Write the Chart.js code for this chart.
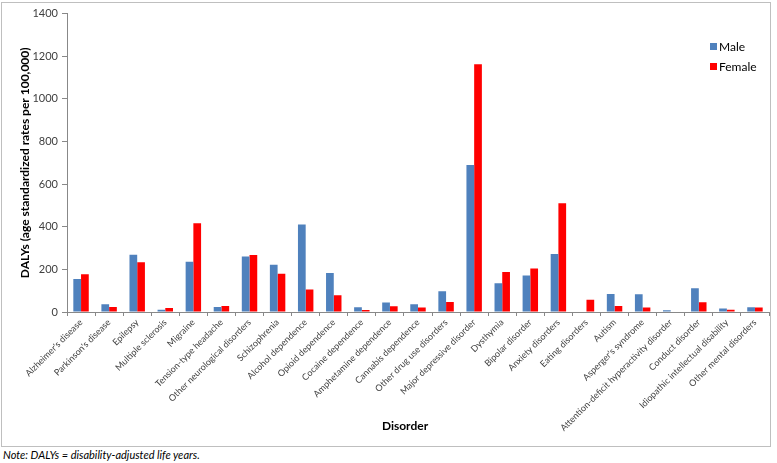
<!DOCTYPE html>
<html>
<head>
<meta charset="utf-8">
<script src="https://cdn.jsdelivr.net/npm/chart.js@4"></script>
<style>
  body { margin: 0; background: #fff; width: 777px; height: 463px; overflow: hidden; font-family: Lato, "Open Sans", sans-serif; }
  #frame { position: absolute; left: 1px; top: 2px; width: 770px; height: 445px; box-sizing: border-box; border: 1px solid #bfbfbf; }
  #note { position: absolute; left: 3px; top: 448px; font-size: 11px; font-style: italic; color: #000; }
</style>
</head>
<body>
<div id="frame"><canvas id="chart" width="768" height="443"></canvas></div>
<div id="note">Note: DALYs = disability-adjusted life years.</div>
<script>
// categories
const disorders = [
  "Alzheimer's disease", "Parkinson's disease", "Epilepsy", "Multiple sclerosis", "Migraine",
  "Tension-type headache", "Other neurological disorders", "Schizophrenia", "Alcohol dependence",
  "Opioid dependence", "Cocaine dependence", "Amphetamine dependence", "Cannabis dependence",
  "Other drug use disorders", "Major depressive disorder", "Dysthymia", "Bipolar disorder",
  "Anxiety disorders", "Eating disorders", "Autism", "Asperger's syndrome",
  "Attention-deficit hyperactivity disorder", "Conduct disorder", "Idiopathic intellectual disability",
  "Other mental disorders"
];
// DALYs per 100,000
const male = [155, 36, 269, 11, 236, 23, 260, 222, 410, 183, 22, 45, 36, 97, 690, 135, 171, 272, 2, 84, 83, 8, 111, 17, 22];
const female = [177, 23, 233, 19, 416, 28, 267, 180, 105, 78, 9, 27, 21, 47, 1162, 188, 204, 510, 58, 28, 21, 2, 46, 11, 21];
const yTicks = [0, 200, 400, 600, 800, 1000, 1200, 1400];

const ctx = document.getElementById('chart');
const FONT = 'Lato, "Open Sans", sans-serif';

// legend inside the plot + x axis title, placed like the original
const extras = {
  id: 'extras',
  afterDraw(chart) {
    const c = chart.ctx;
    c.save();
    c.font = '12px ' + FONT;
    c.textBaseline = 'middle';
    chart.data.datasets.forEach((ds, i) => {
      const y = 44 + i * 20;
      c.fillStyle = ds.backgroundColor;
      c.fillRect(708, y - 4, 7, 7);
      c.fillStyle = '#000';
      c.fillText(ds.label, 717, y);
    });
    c.font = 'bold 12px ' + FONT;
    c.textAlign = 'center';
    c.fillText('Disorder', 403, 423);
    c.restore();
  }
};

new Chart(ctx, {
  type: 'bar',
  data: {
    labels: disorders,
    datasets: [
      { label: 'Male', data: male, backgroundColor: '#4f81bd' },
      { label: 'Female', data: female, backgroundColor: '#ff0000' }
    ]
  },
  options: {
    responsive: false,
    animation: false,
    layout: { padding: { top: 10, right: 1, left: 0, bottom: 0 } },
    datasets: { bar: { categoryPercentage: 0.55, barPercentage: 1.0 } },
    plugins: {
      legend: { display: false },
      tooltip: { enabled: false }
    },
    scales: {
      x: {
        grid: { display: true, drawOnChartArea: false, tickLength: 4, color: '#888' },
        border: { color: '#888' },
        ticks: {
          autoSkip: false, maxRotation: 45, minRotation: 45, padding: 1,
          color: '#404040', font: { family: FONT, size: 9 }
        },
        afterFit(scale) { scale.height = 134; }
      },
      y: {
        min: 0, max: 1400,
        afterBuildTicks(scale) { scale.ticks = yTicks.map(v => ({ value: v })); },
        grid: { display: true, drawOnChartArea: false, tickLength: 5, color: '#888' },
        border: { color: '#888' },
        ticks: {
          padding: 4, color: '#404040',
          font: { family: FONT, size: 11 },
          callback: v => String(v)
        },
        title: {
          display: true, text: 'DALYs (age standardized rates per 100,000)', color: '#000',
          font: { family: FONT, size: 12, weight: 'bold' },
          padding: { top: 16, bottom: 0 }
        },
        afterFit(scale) { scale.width = 65; }
      }
    }
  },
  plugins: [extras]
});
</script>
</body>
</html>
